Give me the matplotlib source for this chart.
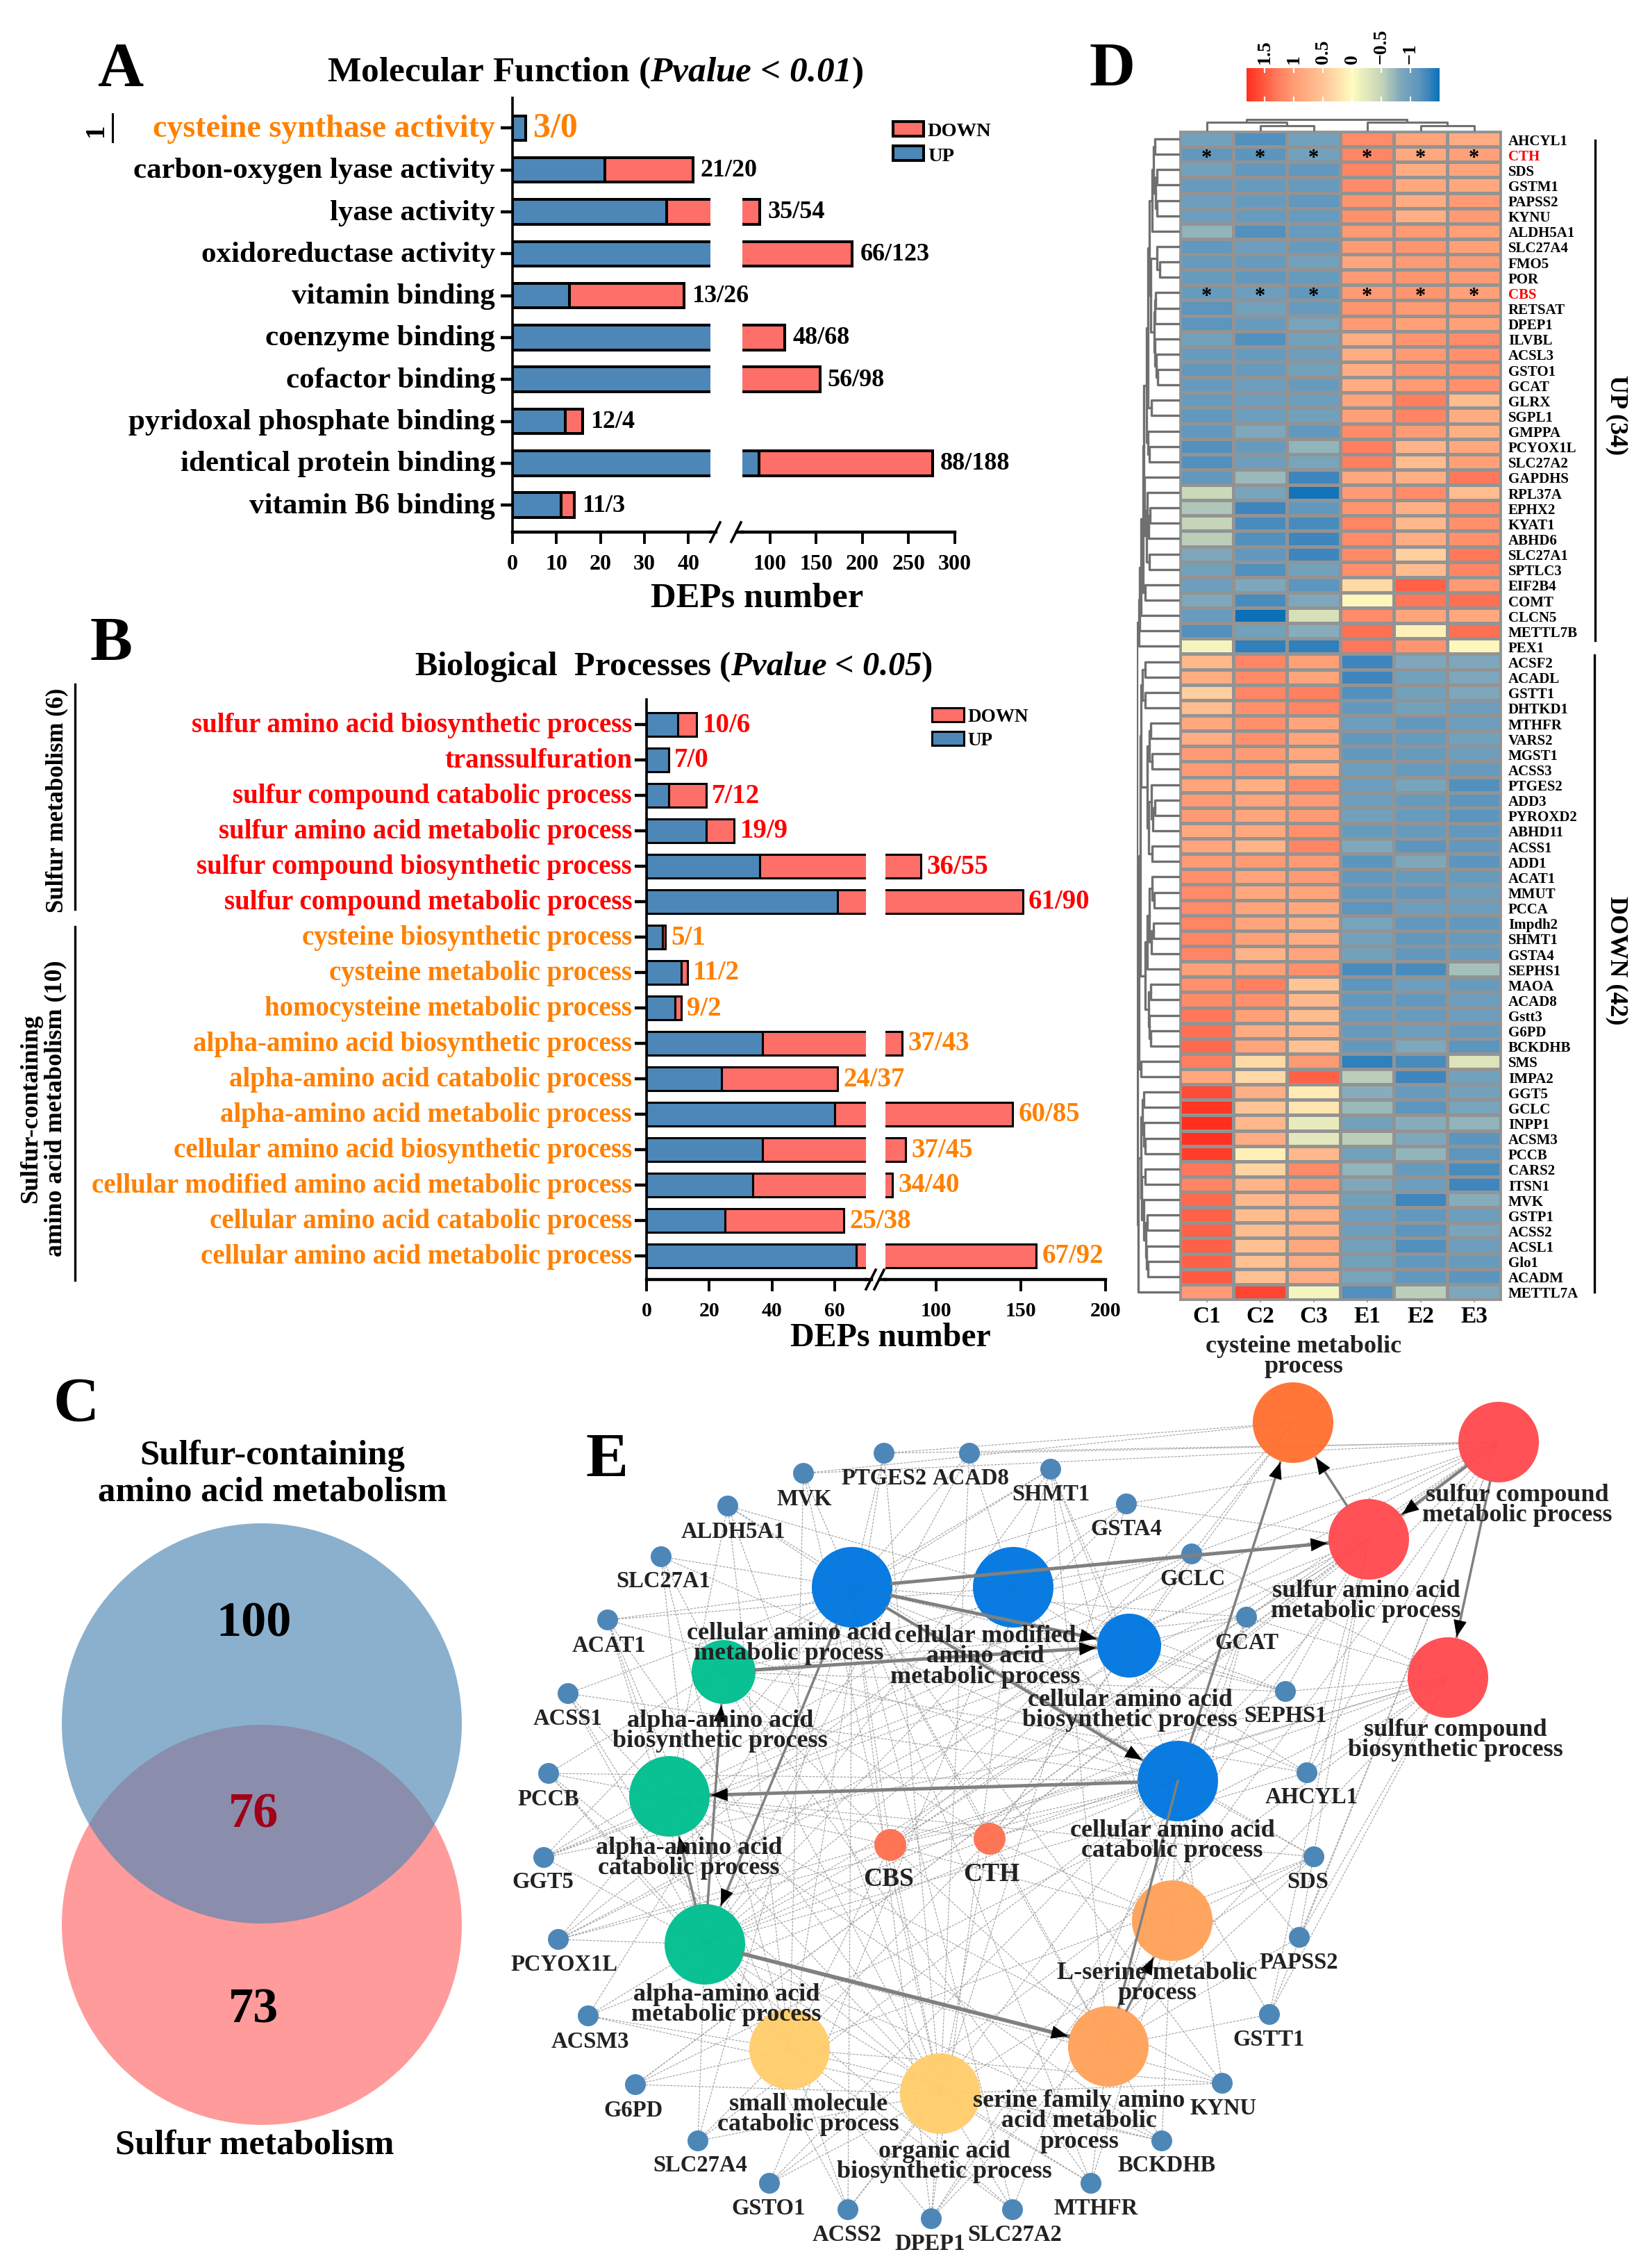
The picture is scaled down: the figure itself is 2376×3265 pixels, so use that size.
# panels A-E: GO bars, venn, heatmap, network
import numpy as np
import matplotlib
matplotlib.use("Agg")
import matplotlib.pyplot as plt
from matplotlib.colors import LinearSegmentedColormap
from matplotlib.patches import Circle
from matplotlib.transforms import ScaledTranslation

plt.rcParams['font.family'] = ['Liberation Serif', 'DejaVu Serif']
plt.rcParams['font.weight'] = 'bold'
plt.rcParams['axes.labelweight'] = 'bold'
plt.rcParams['mathtext.fontset'] = 'custom'
plt.rcParams['mathtext.rm'] = 'Liberation Serif:bold'
plt.rcParams['mathtext.it'] = 'Liberation Serif:italic:bold'
plt.rcParams['mathtext.bf'] = 'Liberation Serif:bold'
plt.rcParams['mathtext.cal'] = 'Liberation Serif:italic:bold'  # mathit turns digits upright, cal does not

W, H = 2376, 3266
UP_C, DOWN_C = "#4D87B8", "#FF6F69"
RED, ORANGE = "#FF0000", "#FF8000"

# panel A
mf_names = ["cysteine synthase activity", "carbon-oxygen lyase activity", "lyase activity",
            "oxidoreductase activity", "vitamin binding", "coenzyme binding", "cofactor binding",
            "pyridoxal phosphate binding", "identical protein binding", "vitamin B6 binding"]
mf_up = [3, 21, 35, 66, 13, 48, 56, 12, 88, 11]
mf_down = [0, 20, 54, 123, 26, 68, 98, 4, 188, 3]

# panel B
bp_names = ["sulfur amino acid biosynthetic process", "transsulfuration",
            "sulfur compound catabolic process", "sulfur amino acid metabolic process",
            "sulfur compound biosynthetic process", "sulfur compound metabolic process",
            "cysteine biosynthetic process", "cysteine metabolic process",
            "homocysteine metabolic process", "alpha-amino acid biosynthetic process",
            "alpha-amino acid catabolic process", "alpha-amino acid metabolic process",
            "cellular amino acid biosynthetic process", "cellular modified amino acid metabolic process",
            "cellular amino acid catabolic process", "cellular amino acid metabolic process"]
bp_up = [10, 7, 7, 19, 36, 61, 5, 11, 9, 37, 24, 60, 37, 34, 25, 67]
bp_down = [6, 0, 12, 9, 55, 90, 1, 2, 2, 43, 37, 85, 45, 40, 38, 92]

# panel C
venn_counts = ["100", "76", "73"]

# panel D
samples = ["C1", "C2", "C3", "E1", "E2", "E3"]
genes_up = ["AHCYL1", "CTH", "SDS", "GSTM1", "PAPSS2", "KYNU", "ALDH5A1", "SLC27A4", "FMO5", "POR",
            "CBS", "RETSAT", "DPEP1", "ILVBL", "ACSL3", "GSTO1", "GCAT", "GLRX", "SGPL1", "GMPPA",
            "PCYOX1L", "SLC27A2", "GAPDHS", "RPL37A", "EPHX2", "KYAT1", "ABHD6", "SLC27A1", "SPTLC3",
            "EIF2B4", "COMT", "CLCN5", "METTL7B", "PEX1"]
genes_down = ["ACSF2", "ACADL", "GSTT1", "DHTKD1", "MTHFR", "VARS2", "MGST1", "ACSS3", "PTGES2", "ADD3",
              "PYROXD2", "ABHD11", "ACSS1", "ADD1", "ACAT1", "MMUT", "PCCA", "Impdh2", "SHMT1", "GSTA4",
              "SEPHS1", "MAOA", "ACAD8", "Gstt3", "G6PD", "BCKDHB", "SMS", "IMPA2", "GGT5", "GCLC",
              "INPP1", "ACSM3", "PCCB", "CARS2", "ITSN1", "MVK", "GSTP1", "ACSS2", "ACSL1", "Glo1",
              "ACADM", "METTL7A"]
heat_up = [
    [-.95, -1.2, -.95, 1.15, .9, .8], [-1.1, -1.15, -.95, 1.2, .85, .95], [-.95, -1.1, -1.1, 1.2, .8, .9],
    [-1.05, -1.05, -1.05, 1.15, .85, .85], [-1, -1.05, -1.1, 1.05, .8, 1], [-1, -1.05, -1.05, 1.1, .75, 1],
    [-.75, -1.2, -1.05, 1, 1, .95], [-1.1, -1, -1.05, 1, 1.05, .95], [-1.05, -1.05, -.95, .9, 1, 1],
    [-1.05, -1.1, -1.05, 1, 1.05, 1], [-1.05, -1, -1.1, 1, 1.05, .95], [-1.15, -.95, -1.05, 1.05, 1, 1],
    [-1.15, -1.05, -.9, 1, .95, .95], [-.95, -1.2, -.95, .8, 1.05, 1.15], [-1.05, -1.05, -1, .8, 1, 1.1],
    [-1.1, -1.05, -.95, .8, 1.05, 1.1], [-1.05, -1, -1.05, .8, 1, 1.1], [-1.05, -1, -1, .9, 1.25, .6],
    [-1.1, -1, -.95, .95, 1.2, .8], [-1.1, -.85, -1.1, 1.15, 1, .75], [-1.2, -1.05, -.75, 1.25, .7, .85],
    [-1.2, -1, -.9, 1.25, .6, .95], [-1.1, -.7, -1.3, .85, .75, 1.3], [-.45, -.9, -1.45, 1, 1.15, .6],
    [-.6, -1.3, -1.1, 1.05, .75, 1.15], [-.5, -1.25, -1.25, 1.2, .65, 1.1], [-.55, -1.2, -1.3, 1.15, .8, 1.1],
    [-.85, -1.1, -1.3, 1.15, .4, 1.3], [-.95, -1.2, -.95, 1.1, .6, 1.2], [-1, -.85, -1.15, .3, 1.45, 1],
    [-.85, -1.25, -.85, .05, 1.3, 1.35], [-1.05, -1.6, -.35, 1.15, .9, .85], [-1.2, -.95, -.8, 1.35, .1, 1.35],
    [-.1, -1.35, -1.35, 1.3, 1.05, .05]]
heat_down = [
    [.65, 1.2, .95, -1.3, -.85, -.85], [.8, 1.15, .9, -1.3, -.95, -.85], [.4, 1.2, 1.25, -1.2, -.95, -.85],
    [.6, 1.1, 1.2, -1.1, -.95, -1], [.85, 1.1, .9, -1, -1.1, -1], [.8, 1.1, .9, -1.1, -1.05, -.95],
    [1, 1, .85, -1.1, -1.05, -1], [1, 1.05, .8, -1, -1.05, -1.05], [.9, .75, 1.15, -1, -.9, -1.2],
    [1, .9, 1, -1, -1.05, -1.15], [1, .9, 1, -.95, -1.05, -1.15], [.85, .85, 1.1, -1.05, -1.05, -1.1],
    [.9, .7, 1.2, -.85, -1.15, -1.1], [1, 1, 1, -1.15, -.85, -1.15], [1.1, .9, 1, -1.1, -1.05, -1.05],
    [1.15, .85, .9, -1.1, -1.1, -1], [1.15, .9, .85, -1.15, -1, -1], [1.2, .9, .75, -.9, -1.1, -1.1],
    [1.2, .95, .8, -.95, -1.1, -1.05], [1.2, .7, .9, -.95, -1.1, -1.05], [.95, .95, 1.1, -1.25, -1.25, -.65],
    [1.1, 1.25, .5, -1.15, -1, -1.05], [1.15, 1.1, .65, -1.1, -1.1, -1], [1.3, .95, .6, -1.05, -1.05, -1],
    [1.35, .8, .7, -1.05, -1, -1.05], [1.4, .9, .55, -1.1, -.85, -1.15], [1.25, .3, 1, -1.35, -1.25, -.3],
    [.85, .3, 1.45, -.55, -1.3, -.95], [1.6, .75, .15, -.8, -1.05, -.95], [1.75, .5, .2, -.7, -1.15, -.9],
    [1.8, .65, -.2, -.95, -.8, -.75], [1.78, .8, -.25, -.55, -.85, -1.15], [1.7, .1, .65, -.95, -.75, -1.15],
    [1.3, .35, 1.15, -.75, -1.05, -1.25], [1.2, .7, 1.05, -.85, -1, -1.3], [1.4, .65, .8, -.95, -1.3, -.8],
    [1.45, .6, .75, -1, -1.1, -1], [1.45, .6, .75, -1, -1.15, -.9], [1.45, .55, .85, -.95, -1.2, -1],
    [1.45, .55, .8, -.95, -1.1, -1.05], [1.5, .55, .8, -.9, -1.1, -1.15], [1, 1.65, -.1, -1.2, -.55, -.85]]

# dendrograms as nested [height, left, right], leaves are row numbers
core_up = [88, [80, [76, [72, 0, 1], [71, [67, 2, 3], [67, 4, 5]]], 6],
           [84, [67, 7, [58, 8, 9]],
            [75, [72, [70, 10, 11], 12], [72, 13, [68, 14, [65, 15, 16]]]]]]
tree_up = [119, [116, [112, [106, [104, [96, [92, core_up, [82, 17, 18]], [92, 19, [88, 20, 21]]],
                               [102, 22, [97, [94, 23, [90, [86, 24, 25], 26]], [88, 27, 28]]]],
                        [100, 29, 30]], 31], 32], 33]
tree_d1 = [112, [108, [100, 34, 35], [100, 36, 37]],
           [95, [88, [85, 38, 39], [80, 40, 41]], [90, [82, 42, [78, [72, 43, 44], 45]], [80, 46, 47]]]]
tree_d2 = [100, [95, [88, [80, 48, [75, 49, 50]], [82, [76, 51, 52], 53]], 54],
           [90, [85, 55, 56], [88, 57, [84, 58, 59]]]]
tree_d3 = [120, [112, [108, [105, 62, 63], [104, 64, [100, 65, 66]]],
                 [110, [100, 67, 68], [104, 69, [98, [95, 70, 71], [96, 72, [92, 73, 74]]]]]], 75]
tree_rows = [125, tree_up, [122, [118, [114, tree_d1, tree_d2], [112, 60, 61]], tree_d3]]
tree_cols = [17, [13, 0, [8, 1, 2]], [13, 3, [8, 4, 5]]]

# panel E, positions in pixels
term_names = ["cysteine metabolic\nprocess", "sulfur compound\nmetabolic process",
              "sulfur amino acid\nmetabolic process", "sulfur compound\nbiosynthetic process",
              "cellular amino acid\nmetabolic process", "cellular modified\namino acid\nmetabolic process",
              "cellular amino acid\nbiosynthetic process", "cellular amino acid\ncatabolic process",
              "alpha-amino acid\nbiosynthetic process", "alpha-amino acid\ncatabolic process",
              "alpha-amino acid\nmetabolic process", "L-serine metabolic\nprocess",
              "serine family amino\nacid metabolic\nprocess", "small molecule\ncatabolic process",
              "organic acid\nbiosynthetic process", "CBS", "CTH"]
term_xy = [(1862, 2049), (2158, 2077), (1971, 2217), (2085, 2416), (1227, 2286), (1459, 2286), (1626, 2370),
           (1696, 2565), (1042, 2408), (964, 2587), (1015, 2800), (1688, 2766), (1596, 2947), (1137, 2951),
           (1354, 3015), (1282, 2657), (1425, 2648)]
term_r = [58, 58, 58, 58, 58, 58, 46, 58, 46, 58, 58, 58, 58, 58, 58, 23, 23]
term_colors = ["#FF7030", "#FF4A4F", "#FF4A4F", "#FF4A4F", "#0077E0", "#0077E0", "#0077E0", "#0077E0",
               "#00BF90", "#00BF90", "#00BF90", "#FFA258", "#FFA258", "#FFCD6B", "#FFCD6B", "#FF7050", "#FF7050"]
term_label_xy = [(1877, 1953), (2185, 2167), (1967, 2305), (2096, 2505), (1136, 2366), (1419, 2385),
                 (1627, 2462), (1688, 2650), (1037, 2492), (992, 2675), (1046, 2886), (1666, 2855),
                 (1554, 3054), (1164, 3044), (1360, 3112), (1280, 2706), (1428, 2699)]
gene_names = ["MVK", "PTGES2", "ACAD8", "SHMT1", "GSTA4", "ALDH5A1", "SLC27A1", "GCLC", "ACAT1", "GCAT",
              "ACSS1", "SEPHS1", "PCCB", "AHCYL1", "GGT5", "SDS", "PCYOX1L", "PAPSS2", "ACSM3", "GSTT1",
              "G6PD", "KYNU", "SLC27A4", "BCKDHB", "GSTO1", "MTHFR", "ACSS2", "SLC27A2", "DPEP1"]
gene_xy = [(1157, 2122), (1273, 2093), (1396, 2093), (1513, 2116), (1622, 2166), (1048, 2169), (952, 2242),
           (1716, 2238), (875, 2333), (1795, 2329), (818, 2439), (1851, 2436), (790, 2554), (1882, 2553),
           (783, 2675), (1892, 2674), (804, 2793), (1871, 2790), (847, 2903), (1828, 2901), (915, 3002),
           (1760, 3000), (1005, 3083), (1673, 3083), (1108, 3144), (1571, 3144), (1221, 3182), (1458, 3182),
           (1341, 3195)]
gene_label_xy = [(1158, 2158), (1273, 2129), (1398, 2129), (1513, 2152), (1622, 2202), (1056, 2206), (955, 2277),
                 (1717, 2274), (877, 2370), (1795, 2366), (818, 2475), (1851, 2471), (790, 2591), (1889, 2588),
                 (782, 2710), (1883, 2710), (812, 2829), (1870, 2826), (850, 2940), (1827, 2937), (912, 3039),
                 (1762, 3036), (1008, 3118), (1680, 3118), (1107, 3180), (1578, 3180), (1220, 3218), (1461, 3218),
                 (1339, 3231)]
# which terms each gene belongs to (estimated from the dashed edges)
gene_links = [[1, 4, 13, 14, 0], [1, 0, 14, 13, 4], [4, 5, 10, 1, 14], [4, 5, 6, 8, 10, 11, 12, 7], [1, 2, 5, 4, 10, 14],
              [4, 7, 9, 13, 14, 5], [4, 7, 13, 14, 10], [0, 1, 2, 3, 4, 5, 6, 8, 10, 9], [4, 7, 9, 10, 13, 5, 14],
              [3, 4, 6, 7, 8, 11, 12, 1, 2, 10],
              [4, 13, 14, 10, 7], [2, 3, 4, 6, 10, 5, 8], [7, 9, 13, 10, 14, 4], [1, 2, 3, 4, 10, 5, 8], [1, 2, 3, 5, 10, 6, 8],
              [4, 7, 9, 11, 12, 13, 14], [4, 5, 10, 1, 2, 3, 7], [1, 3, 2, 12, 5], [4, 10, 13, 14, 7], [1, 5, 2, 12, 3],
              [1, 3, 13, 14, 2],
              [4, 7, 9, 10, 13, 14], [14, 4, 13, 10, 7], [7, 9, 10, 13, 14, 4], [1, 5, 14, 3], [4, 10, 12, 11, 14, 8],
              [14, 13, 10, 4, 7], [14, 4, 10, 13, 7], [1, 5, 14, 4, 10, 3, 2]]
cbs_links = [[0, 1, 2, 3, 4, 6, 7, 8, 9, 10, 11, 12, 13, 14], [0, 1, 2, 3, 4, 6, 7, 8, 9, 10, 11, 12, 13, 14]]
# directed links between terms
term_arrows = [(4, 2, 3.5), (4, 6, 3.5), (8, 6, 3.5), (4, 7, 3), (7, 9, 3.5), (7, 0, 2.5), (2, 0, 2.5), (1, 2, 3),
               (1, 3, 2.5), (4, 10, 2.5), (10, 9, 2.5), (10, 8, 2.5), (10, 12, 4), (12, 11, 2.5)]
term_lines = [(7, 12, 2.5)]


def px_axes(x0, y0, x1, y1):
    ax = fig.add_axes([x0 / W, 1 - y1 / H, (x1 - x0) / W, (y1 - y0) / H])
    ax.patch.set_alpha(0)
    return ax


def draw_tree(ax, node, vertical=False):
    # returns (leaf position, height) of the node
    if isinstance(node, int):
        return node + 0.5, 0
    h, left, right = node
    p1, h1 = draw_tree(ax, left, vertical)
    p2, h2 = draw_tree(ax, right, vertical)
    hs, ps = [h1, h, h, h2], [p1, p1, p2, p2]
    if vertical:
        ax.plot(ps, hs, color="#707070", lw=2.2, solid_capstyle="projecting")
    else:
        ax.plot(hs, ps, color="#707070", lw=2.4, solid_capstyle="projecting")
    return (p1 + p2) / 2, h


def broken_bars(names, up, down, colors, box, split, right_ticks, left_ticks, legend_xy, legend_fs, handle_len,
                name_fs, val_fs, tick_fs, bar_h, edge, rmax, pad):
    x0, x_left_end, x_right_start, x1, y0, y1, y_first, step = box
    nrow = len(names)
    ylim = ((y1 - y_first) / step, (y0 - y_first) / step)
    ax1 = px_axes(x0, y0, x_left_end, y1)
    ax2 = px_axes(x_right_start, y0, x1, y1)
    ys = np.arange(nrow)
    up = np.array(up)
    down = np.array(down)
    for ax in (ax1, ax2):
        ax.barh(ys, up, height=bar_h, color=UP_C, edgecolor="black", linewidth=edge)
        ax.barh(ys, down, left=up, height=bar_h, color=DOWN_C, edgecolor="black", linewidth=edge)
        ax.set_ylim(*ylim)
        ax.spines["top"].set_visible(False)
        ax.spines["right"].set_visible(False)
        ax.spines["bottom"].set_linewidth(3.2)
        ax.tick_params(axis="x", length=12, width=2.8, labelsize=tick_fs, pad=10)
    ax1.set_xlim(0, split[0])
    ax2.set_xlim(split[1], rmax)
    ax2.spines["left"].set_visible(False)
    ax2.set_yticks([])
    ax1.spines["left"].set_linewidth(2.6)
    ax1.set_xticks(left_ticks)
    ax2.set_xticks(right_ticks)
    ax1.set_yticks(ys)
    ax1.set_yticklabels(names, fontsize=name_fs)
    ax1.tick_params(axis="y", length=12, width=3.2, pad=pad)
    up_shift = ScaledTranslation(0, 0.04, fig.dpi_scale_trans)
    for lab, c in zip(ax1.get_yticklabels(), colors):
        lab.set_color(c)
        lab.set_transform(lab.get_transform() + up_shift)
    # value labels sit at the end of each stack
    for i in ys:
        total = up[i] + down[i]
        ax = ax1 if total < split[0] else ax2
        ax.annotate(f"{up[i]}/{down[i]}", xy=(total, i), xytext=(val_pad, 0), textcoords="offset points",
                    va="center", ha="left", fontsize=val_fs[i], color=colors[i], annotation_clip=False)
    # axis break
    for ax, xs in ((ax1, (1, 1.0 + 8 / (x_left_end - x0))), (ax2, (-8 / (x1 - x_right_start), 0))):
        ax.plot(xs, (0, 0), transform=ax.transAxes, color="black", lw=3.2, clip_on=False)
    for xb in (x_left_end + 7, x_right_start - 9):
        over.plot([xb - 7, xb + 7], [y1 + 14, y1 - 14], color="black", lw=2.6)
    ax2.legend([ax2.containers[1], ax2.containers[0]], ["DOWN", "UP"], loc="upper left",
               bbox_to_anchor=(legend_xy[0] / W, 1 - legend_xy[1] / H), bbox_transform=fig.transFigure,
               frameon=False, fontsize=legend_fs, handlelength=handle_len, handleheight=0.75, handletextpad=0.2,
               labelspacing=0.32, borderpad=0, borderaxespad=0)
    return ax1


fig = plt.figure(figsize=(W / 100, H / 100), dpi=100, facecolor="white")
over = fig.add_axes([0, 0, 1, 1])
over.set_xlim(0, W)
over.set_ylim(H, 0)
over.axis("off")

# ---- A
mf_colors = [ORANGE] + ["black"] * 9
val_pad = 8
ax_a = broken_bars(mf_names, mf_up, mf_down, mf_colors, (738, 1023, 1069, 1375, 142, 767, 185.4, 60.3), (45, 70),
                   [100, 150, 200, 250, 300], [0, 10, 20, 30, 40], (1286, 176), 20.5, 1.55, 31,
                   [36] + [26] * 9, 23, 0.59, 2.9, 300, 6)
ax_a.get_yticklabels()[0].set_fontsize(33)
over.text(173, 102, "A", fontsize=66, ha="center", va="center")
over.text(857, 105, r"Molecular Function ($\mathcal{Pvalue}$ < $\mathcal{0.01}$)", fontsize=37, ha="center", va="center")
over.text(1090, 862, "DEPs number", fontsize=36.5, ha="center", va="center")
over.text(138, 187, "1", fontsize=28, rotation=90, ha="center", va="center")
over.plot([162, 162], [165, 205], color="black", lw=2.2)

# ---- B
bp_colors = [RED] * 6 + [ORANGE] * 10
val_pad = 6
broken_bars(bp_names, bp_up, bp_down, bp_colors, (931, 1247, 1275, 1592, 1008, 1843, 1044, 51), (70, 70),
            [100, 150, 200], [0, 20, 40, 60], (1342, 1020), 19.5, 1.7, 28,
            [28] * 16, 21.5, 0.66, 2.2, 200, 3)
over.text(160, 929, "B", fontsize=66, ha="center", va="center")
over.text(970, 960, r"Biological  Processes ($\mathcal{Pvalue}$ < $\mathcal{0.05}$)", fontsize=35, ha="center", va="center")
over.text(1282, 1926, "DEPs number", fontsize=34.5, ha="center", va="center")
over.text(82, 1152, "Sulfur metabolism (6)", fontsize=25, rotation=90, ha="center", va="center")
over.text(62, 1596, "Sulfur-containing\namino acid metabolism (10)", fontsize=26, rotation=90, ha="center",
          va="center", linespacing=1.1, multialignment="center")
over.plot([108, 108], [986, 1310], color="black", lw=2.4)
over.plot([108, 108], [1335, 1844], color="black", lw=2.4)

# ---- C
over.add_patch(Circle((377, 2772), 288, fc="#FF7F7F", alpha=0.78, ec="none"))
over.add_patch(Circle((377, 2482), 288, fc="#4D87B5", alpha=0.66, ec="none"))
over.text(110, 2024, "C", fontsize=66, ha="center", va="center")
over.text(392, 2122, "Sulfur-containing\namino acid metabolism", fontsize=36.5, ha="center", va="center", linespacing=1.17)
over.text(365, 2338, venn_counts[0], fontsize=52, ha="center", va="center")
over.text(365, 2613, venn_counts[1], fontsize=52, ha="center", va="center", color="#A00018")
over.text(365, 2894, venn_counts[2], fontsize=52, ha="center", va="center")
over.text(367, 3089, "Sulfur metabolism", fontsize=36.5, ha="center", va="center")

# ---- D
genes = genes_up + genes_down
vals = np.array(heat_up + heat_down)
cmap = LinearSegmentedColormap.from_list("hm", [(0, "#0A70B8"), (0.06, "#3F86BD"), (0.11, "#5F96BD"), (0.20, "#7FA8BC"),
                                                (0.302, "#C5D5B8"), (0.453, "#FFFBC0"), (0.604, "#FFC496"),
                                                (0.755, "#FF9C74"), (0.83, "#FF8060"), (1, "#FF2E1E")])
ax_h = px_axes(1699, 190, 2161, 1872)
mesh = ax_h.pcolormesh(vals, cmap=cmap, vmin=-1.5, vmax=1.81, edgecolors="#939393", linewidth=2.2)
ax_h.set_ylim(len(genes), 0)
ax_h.set_xticks(np.arange(6) + 0.5)
ax_h.set_xticklabels(samples, fontsize=24)
ax_h.set_yticks(np.arange(len(genes)) + 0.5)
ax_h.set_yticklabels(genes, fontsize=15)
ax_h.yaxis.tick_right()
ax_h.tick_params(axis="y", length=0, pad=8)
ax_h.tick_params(axis="x", length=3, width=1.2, color="#939393", pad=3)
for s in ax_h.spines.values():
    s.set_color("#939393")
    s.set_linewidth(2)
for lab in ax_h.get_yticklabels():
    if lab.get_text() in ("CTH", "CBS"):
        lab.set_color(RED)
for g in ("CTH", "CBS"):
    r = genes.index(g)
    for c in range(6):
        ax_h.text(c + 0.5, r + 0.72, "*", fontsize=22, ha="center", va="center")

ax_r = px_axes(1637, 190, 1699, 1872)
ax_r.set_xlim(125, 0)
ax_r.set_ylim(len(genes), 0)
ax_r.axis("off")
draw_tree(ax_r, tree_rows)
ax_c = px_axes(1699, 170, 2161, 190)
ax_c.set_xlim(0, 6)
ax_c.set_ylim(0, 20)
ax_c.axis("off")
draw_tree(ax_c, tree_cols, vertical=True)

cax = px_axes(1795, 99, 2073, 147)
cb = fig.colorbar(mesh, cax=cax, orientation="horizontal")
cax.invert_xaxis()
cb.set_ticks([1.5, 1, 0.5, 0, -0.5, -1])
cb.set_ticklabels(["1.5", "1", "0.5", "0", "\u22120.5", "\u22121"])
cb.outline.set_visible(False)
cax.xaxis.set_ticks_position("both")
cax.tick_params(axis="x", direction="in", color="white", length=5, width=1.5, labeltop=True, labelbottom=False,
                labelsize=20, labelrotation=90, pad=5)

over.text(1602, 102, "D", fontsize=66, ha="center", va="center")
over.plot([2297, 2297], [203, 923], color="black", lw=2.4)
over.plot([2296, 2296], [944, 1861], color="black", lw=2.4)
over.text(2328, 598, "UP (34)", fontsize=26, rotation=270, ha="center", va="center")
over.text(2328, 1383, "DOWN (42)", fontsize=26, rotation=270, ha="center", va="center")

# ---- E
gxy = np.array(gene_xy, dtype=float)
txy = np.array(term_xy, dtype=float)
for g, links in enumerate(gene_links):
    for t in links:
        over.plot([gxy[g, 0], txy[t, 0]], [gxy[g, 1], txy[t, 1]], color="#A0A0A0", lw=0.8, ls=(0, (3, 1.5)), zorder=1)
for n, links in zip((15, 16), cbs_links):
    for t in links:
        over.plot([txy[n, 0], txy[t, 0]], [txy[n, 1], txy[t, 1]], color="#A0A0A0", lw=0.8, ls=(0, (3, 1.5)), zorder=1)
for (x, y), r, c in zip(term_xy, term_r, term_colors):
    over.add_patch(Circle((x, y), r, fc=c, ec="none", alpha=0.96, zorder=2))
for x, y in gene_xy:
    over.add_patch(Circle((x, y), 15, fc="#4D87B8", ec="none", zorder=2))
for a, b, lw in term_lines:
    # stops at the rim of the lower node
    d = txy[b] - txy[a]
    u = d / np.hypot(*d)
    p1 = txy[b] - u * term_r[b]
    over.plot([txy[a, 0], p1[0]], [txy[a, 1], p1[1]], color="#808080", lw=lw, zorder=3)
for a, b, lw in term_arrows:
    d = txy[b] - txy[a]
    u = d / np.hypot(*d)
    p0 = txy[a] + u * term_r[a]
    p1 = txy[b] - u * (term_r[b] + 2)
    over.plot([p0[0], p1[0]], [p0[1], p1[1]], color="#808080", lw=lw, zorder=3)
    over.annotate("", xy=p1, xytext=p1 - u * 22, zorder=4,
                  arrowprops=dict(arrowstyle="-|>,head_length=0.9,head_width=0.36", color="black", lw=0.5,
                                  shrinkA=0, shrinkB=0, mutation_scale=18))
for (x, y), s in zip(term_label_xy, term_names):
    big = s in ("CBS", "CTH")
    over.text(x, y, s, fontsize=27 if big else 26, ha="center", va="center", color="#222222", zorder=5,
              linespacing=0.87)
for (x, y), s in zip(gene_label_xy, gene_names):
    over.text(x, y, s, fontsize=23.5, ha="center", va="center", color="#222222", zorder=5)
over.text(874, 2104, "E", fontsize=66, ha="center", va="center")

fig.savefig("out.png", dpi=100)
